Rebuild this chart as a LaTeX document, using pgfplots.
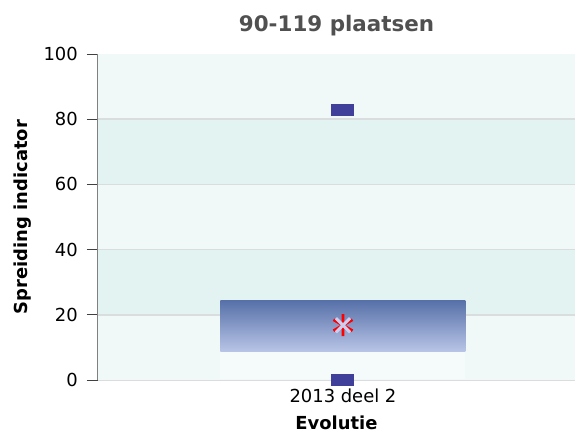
\documentclass[border=0pt]{standalone}
\usepackage{pgfplots}
\pgfplotsset{compat=1.18}
\usepackage{fontspec}
\setmainfont{DejaVu Sans}
\definecolor{bandLight}{HTML}{F1F9F8}
\definecolor{bandDark}{HTML}{E3F3F1}
\definecolor{gridgray}{HTML}{DADDDD}
\definecolor{axisgray}{HTML}{808080}
\definecolor{tickgray}{HTML}{404040}
\definecolor{boxTop}{HTML}{5670A8}
\definecolor{boxBot}{HTML}{B9C5E7}
\definecolor{markcol}{HTML}{40409A}
\definecolor{xcol}{HTML}{CDCDF0}
\definecolor{titlecol}{HTML}{505050}
\begin{document}
\begin{tikzpicture}
\begin{axis}[
  scale only axis,
  width=477bp, height=326bp,
  xmin=-0.5, xmax=0.4735,
  ymin=0, ymax=100,
  clip=false,
  axis x line=bottom, axis y line=left,
  axis line style={-},
  x axis line style={draw=gridgray, line width=1.5bp},
  y axis line style={draw=axisgray, line width=1bp},
  xtick={0}, xticklabels={2013 deel 2},
  xtick style={draw=none},
  ytick={0,20,40,60,80,100},
  tick align=outside,
  major tick length=11bp,
  ytick style={draw=tickgray, line width=0.9bp},
  /pgf/number format/assume math mode=true,
  tick label style={font=\fontsize{18}{20}\selectfont, text=black, inner sep=0pt},
  yticklabel style={anchor=east, xshift=-9bp},
  xticklabel style={anchor=north, yshift=2bp},
  title={90-119 plaatsen},
  title style={font=\bfseries\fontsize{21.5}{24}\selectfont, text=titlecol, at={(axis description cs:0.5,1.070)}, anchor=center, inner sep=0pt},
  xlabel={Evolutie},
  xlabel style={font=\bfseries\fontsize{18}{20}\selectfont, at={(axis description cs:0.5,-0.130)}, anchor=center, inner sep=0pt},
  ylabel={Spreiding indicator},
  ylabel style={font=\bfseries\fontsize{18}{20}\selectfont, at={(axis description cs:-0.1570,0.5)}, anchor=center, rotate=0, inner sep=0pt},
]
% background bands
\addplot[draw=none, fill=bandLight] coordinates {(-0.5,0) (0.4735,0) (0.4735,20) (-0.5,20)} -- cycle;
\addplot[draw=none, fill=bandDark] coordinates {(-0.5,20) (0.4735,20) (0.4735,40) (-0.5,40)} -- cycle;
\addplot[draw=none, fill=bandLight] coordinates {(-0.5,40) (0.4735,40) (0.4735,60) (-0.5,60)} -- cycle;
\addplot[draw=none, fill=bandDark] coordinates {(-0.5,60) (0.4735,60) (0.4735,80) (-0.5,80)} -- cycle;
\addplot[draw=none, fill=bandLight] coordinates {(-0.5,80) (0.4735,80) (0.4735,100) (-0.5,100)} -- cycle;
% grid lines
\addplot[gridgray, line width=1.5bp] coordinates {(-0.5,20) (0.4735,20)};
\addplot[gridgray, line width=1.5bp] coordinates {(-0.5,40) (0.4735,40)};
\addplot[gridgray, line width=1.5bp] coordinates {(-0.5,60) (0.4735,60)};
\addplot[gridgray, line width=1.5bp] coordinates {(-0.5,80) (0.4735,80)};
% pale area below box
\addplot[draw=none, fill=white, fill opacity=0.3] coordinates {(-0.25,0.3) (0.25,0.3) (0.25,8.7) (-0.25,8.7)} -- cycle;
% box (P25-P75)
\addplot[draw=none, top color=boxTop, bottom color=boxBot] coordinates {(-0.25,8.7) (0.25,8.7) (0.25,24.5) (-0.25,24.5)} -- cycle;
% min and max
\addplot[markcol, only marks, mark=square*, mark size=11bp, mark options={yscale=0.5, fill=markcol, draw=markcol, line width=0pt}] coordinates {(0,82.7) (0,0)};
% median / mean
\addplot[red, only marks, mark=asterisk, mark size=11bp, mark options={red, line width=2.8bp}] coordinates {(0,16.8)};
\addplot[xcol, only marks, mark=x, mark size=10bp, mark options={xcol, line width=3bp}] coordinates {(0,16.8)};
\end{axis}
\pgfresetboundingbox
\path[use as bounding box] (current axis.south west) ++(-98bp,-56bp) rectangle ++(576bp,436bp);
\end{tikzpicture}
\end{document}
